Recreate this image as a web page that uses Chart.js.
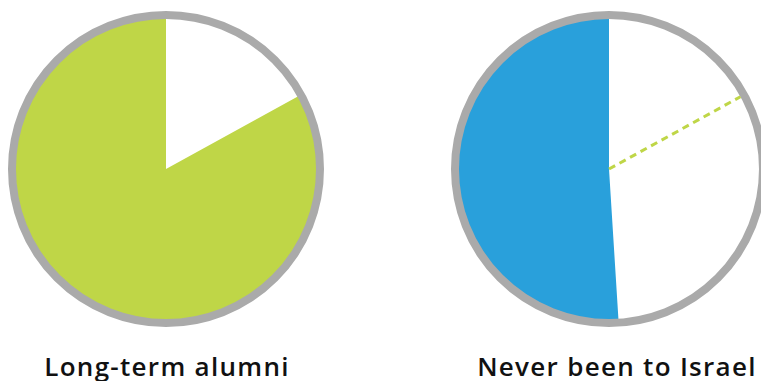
<!DOCTYPE html>
<html>
<head>
<meta charset="utf-8">
<script src="https://cdn.jsdelivr.net/npm/chart.js@4"></script>
<style>
  html, body { margin: 0; padding: 0; background: #fff; }
  #stage { position: relative; width: 761px; height: 381px; overflow: hidden; }
  canvas { position: absolute; }
  .caption {
    position: absolute; top: 349px; width: 340px; text-align: center;
    font-family: "Open Sans", Lato, sans-serif; font-weight: 600; font-size: 26px;
    letter-spacing: 1.3px; line-height: 34px; color: #111; white-space: nowrap;
  }
</style>
</head>
<body>
<div id="stage">
  <canvas id="pieAlumni" width="320" height="320" style="left:6px;top:9px"></canvas>
  <canvas id="pieNever" width="320" height="320" style="left:449px;top:9px"></canvas>
  <div class="caption" style="left:-3px">Long-term alumni</div>
  <div class="caption" style="left:447px">Never been to Israel</div>
</div>
<script>
// Shares of respondents (percent), white slice first, drawn clockwise from 12 o'clock
const categoriesAlumni = ['Other', 'Long-term alumni'];
const valuesAlumni = [17, 83];
const categoriesNever = ['Other', 'Never been to Israel'];
const valuesNever = [49, 51];

const GREEN = '#bfd647';
const BLUE = '#29a0db';
const RING = '#aaaaaa';

// Grey rim drawn over the edge of the pie
const rimPlugin = {
  id: 'rim',
  afterDatasetsDraw(chart) {
    const arc = chart.getDatasetMeta(0).data[0];
    const ctx = chart.ctx;
    ctx.save();
    ctx.beginPath();
    ctx.arc(arc.x, arc.y, arc.outerRadius, 0, Math.PI * 2);
    ctx.lineWidth = 8;
    ctx.strokeStyle = RING;
    ctx.stroke();
    ctx.restore();
  }
};

// Dashed green marker showing where the alumni share would fall
const markerPlugin = {
  id: 'alumniMarker',
  afterDatasetsDraw(chart) {
    const arc = chart.getDatasetMeta(0).data[0];
    const total = valuesAlumni.reduce((a, b) => a + b, 0);
    const angle = -Math.PI / 2 + (valuesAlumni[0] / total) * Math.PI * 2;
    const r = arc.outerRadius - 4;
    const ctx = chart.ctx;
    ctx.save();
    ctx.beginPath();
    ctx.setLineDash([7, 5]);
    ctx.lineWidth = 3;
    ctx.strokeStyle = GREEN;
    ctx.moveTo(arc.x, arc.y);
    ctx.lineTo(arc.x + r * Math.cos(angle), arc.y + r * Math.sin(angle));
    ctx.stroke();
    ctx.restore();
  }
};

function makePie(id, labels, values, color, extraPlugins) {
  return new Chart(document.getElementById(id), {
    type: 'pie',
    data: {
      labels: labels,
      datasets: [{
        data: values,
        backgroundColor: ['#ffffff', color],
        borderWidth: 0,
        hoverOffset: 0
      }]
    },
    options: {
      responsive: false,
      animation: false,
      layout: { padding: 6 },
      plugins: { legend: { display: false }, tooltip: { enabled: false } }
    },
    plugins: [rimPlugin].concat(extraPlugins || [])
  });
}

makePie('pieAlumni', categoriesAlumni, valuesAlumni, GREEN);
makePie('pieNever', categoriesNever, valuesNever, BLUE, [markerPlugin]);
</script>
</body>
</html>
